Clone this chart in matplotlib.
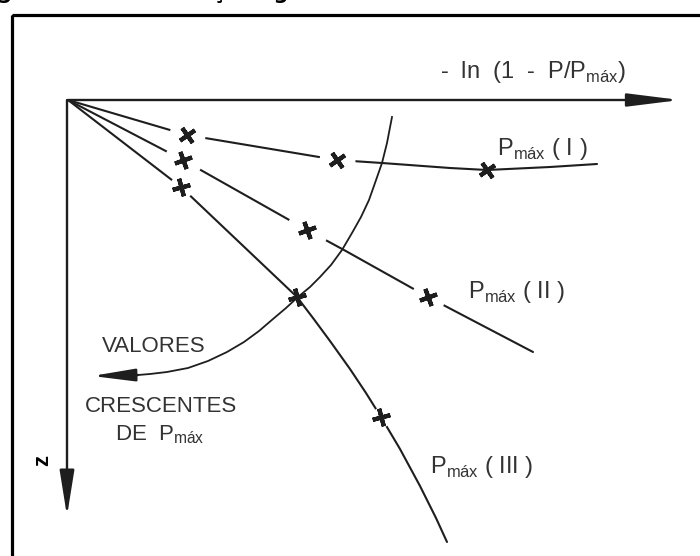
import matplotlib
matplotlib.use("Agg")
import matplotlib.pyplot as plt
from matplotlib.patches import Rectangle

plt.rcParams["font.family"] = ["Liberation Sans", "DejaVu Sans"]

# fan of curves leaving the origin: x = -ln(1 - P/Pmax), z downwards
curve_I_x = [0.00, 1.19, 2.69, 3.14, 3.82, 4.19, 4.82, 5.29]
curve_I_z = [0.00, 0.35, 0.60, 0.63, 0.68, 0.70, 0.67, 0.64]
curve_II_x = [0.00, 1.15, 2.39, 2.76, 3.60, 4.65]
curve_II_z = [0.00, 0.60, 1.30, 1.50, 1.97, 2.52]
curve_III_x = [0.00, 1.13, 2.29, 2.45, 2.62, 2.82, 2.98, 3.13, 3.32, 3.52,
               3.68, 3.79]
curve_III_z = [0.00, 0.87, 1.97, 2.18, 2.41, 2.69, 2.93, 3.17, 3.49, 3.86,
               4.18, 4.42]

# which points carry a cross, and the radius (px) of the clear gap round each
marks_I = [1, 2, 5]
marks_II = [1, 2, 4]
marks_III = [1, 2, 7]
gaps_I = [18, 18, 0]
gaps_II = [19, 21, 17]
gaps_III = [12, 0, 10]

labels = ["P$_{\\mathregular{máx}}$ ( I )",
          "P$_{\\mathregular{máx}}$ ( II )",
          "P$_{\\mathregular{máx}}$ ( III )"]

# arc joining the crosses, pointing to increasing Pmax
arc_x = [3.24, 3.19, 3.14, 3.07, 3.01, 2.93, 2.84, 2.74, 2.63, 2.52, 2.42,
         2.30, 2.18, 2.05, 1.91, 1.76, 1.59, 1.40, 1.20, 0.99, 0.82, 0.70]
arc_z = [0.17, 0.43, 0.63, 0.83, 1.00, 1.17, 1.33, 1.50, 1.65, 1.77, 1.87,
         1.97, 2.08, 2.19, 2.31, 2.42, 2.52, 2.61, 2.68, 2.72, 2.74, 2.75]
arc_tip = (0.24, 2.76)

x_axis_end = 6.12
z_axis_end = 4.16

ink = "#1e1e1e"
txt = "#333333"

fig = plt.figure(figsize=(7, 5.56), dpi=100)
ax = fig.add_axes([0, 0, 1, 1])
ax.set_xlim(-0.68, 6.32)
ax.set_ylim(4.56, -1.00)
ax.axis("off")

# page frame, running off the right and bottom edges
ax.add_patch(Rectangle((-0.565, -0.855), 7.5, 6.0, fill=False,
                       lw=2.3, ec="black", zorder=1, clip_on=False))

# caption above the frame (only its descenders show)
fig.text(-23.5 / 700, 1.0 + 0.5 / 556, "Figura 2.7 – Construções gráficas",
         fontsize=15, fontweight="bold", family="DejaVu Sans",
         ha="left", va="baseline", color="black")

# axes with long dart heads
ax.annotate("", xy=(x_axis_end, 0), xytext=(0, 0),
            arrowprops=dict(arrowstyle="-|>,head_length=3.2,head_width=0.4",
                            lw=1.7, color=ink, shrinkA=0, shrinkB=0))
ax.annotate("", xy=(-0.01, z_axis_end), xytext=(-0.01, 0),
            arrowprops=dict(arrowstyle="-|>,head_length=2.8,head_width=0.45",
                            lw=1.7, color=ink, shrinkA=0, shrinkB=0))

ax.text(3.72, -0.22, "-  ln  (1  -  P/P$_{\\mathregular{máx}}$)", fontsize=17,
        color=txt, ha="left", va="baseline")
ax.text(-0.25, 3.60, "z", fontsize=16, rotation=90, color="black",
        ha="center", va="center", fontweight="bold")

curves = [
    (curve_I_x, curve_I_z, marks_I, gaps_I, 35),
    (curve_II_x, curve_II_z, marks_II, gaps_II, 20),
    (curve_III_x, curve_III_z, marks_III, gaps_III, 15),
]
for x, z, marks, gaps, ang in curves:
    ax.plot(x, z, color=ink, lw=1.5, solid_capstyle="round",
            solid_joinstyle="round", zorder=2)
    for i, g in zip(marks, gaps):
        if g:
            ax.plot(x[i], z[i], "o", ms=1.44 * g, mfc="white", mec="none",
                    zorder=3)
        ax.plot(x[i], z[i], marker=(4, 2, ang), ms=13, mew=3.0, color=ink,
                ls="none", zorder=5)

ax.text(4.29, 0.55, labels[0], fontsize=17, color=txt, ha="left",
        va="baseline")
ax.text(4.00, 1.98, labels[1], fontsize=17, color=txt, ha="left",
        va="baseline")
ax.text(3.62, 3.73, labels[2], fontsize=17, color=txt, ha="left",
        va="baseline")

# arc of increasing Pmax
ax.plot(arc_x, arc_z, color=ink, lw=1.3, solid_joinstyle="round", zorder=4)
ax.annotate("", xy=arc_tip, xytext=(arc_x[-1], arc_z[-1]),
            arrowprops=dict(arrowstyle="-|>,head_length=2.6,head_width=0.38",
                            lw=1.7, color=ink, shrinkA=0, shrinkB=0),
            zorder=4)

ax.text(0.34, 2.52, "VALORES", fontsize=16, color=txt, ha="left",
        va="baseline")
ax.text(0.17, 3.12, "CRESCENTES", fontsize=16, color=txt, ha="left",
        va="baseline")
ax.text(0.47, 3.40, "DE  P$_{\\mathregular{máx}}$", fontsize=16, color=txt,
        ha="left", va="baseline")

fig.savefig("out.png", dpi=100, facecolor="white")
